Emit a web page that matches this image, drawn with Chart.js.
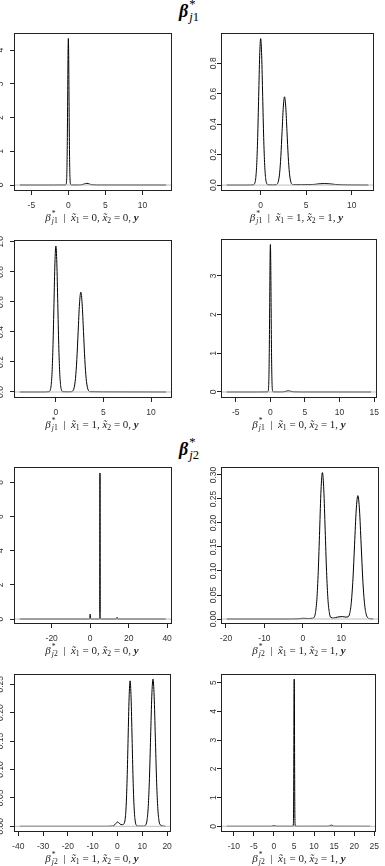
<!DOCTYPE html>
<html>
<head>
<meta charset="utf-8">
<script src="https://cdn.jsdelivr.net/npm/chart.js@4.4.1/dist/chart.umd.min.js"></script>
<style>
  body { margin: 0; background: #fff; width: 385px; height: 866px; position: relative; overflow: hidden; }
  canvas { position: absolute; }
  .xl { position: absolute; font: 11px "Liberation Serif", serif; color: #222; white-space: nowrap;
        transform: translateX(-50%); line-height: 12px; height: 12px; }
  .hd { position: absolute; font: bold 18px "Liberation Serif", serif; color: #000; white-space: nowrap;
        transform: translateX(-50%); line-height: 20px; }
  .ss { display: inline-block; position: relative; line-height: 1; margin-left: 1px; }
  .ss .sp { position: absolute; left: 0; top: -0.3em; font-size: 0.7em; }
  .ss .sb { position: relative; top: 0.32em; font-size: 0.7em; }
  .hd .ss { font-weight: normal; }
  .lo { position: relative; top: 0.3em; font-size: 0.7em; }
</style>
</head>
<body>
<script>
// density of beta*_j1 | x1 = 0, x2 = 0
const b1_00_x = [-6.55, -2, -0.4, -0.27, -0.225, -0.18, -0.135, -0.09, -0.045, 0, 0.045, 0.09, 0.135, 0.18, 0.225, 0.27, 0.4, 1.5, 1.8, 2.15, 2.5, 2.85, 3.2, 4.5, 13.2];
const b1_00_y = [0, 0, 0.002, 0.05, 0.19, 0.59, 1.41, 2.64, 3.84, 4.35, 3.84, 2.64, 1.41, 0.59, 0.19, 0.05, 0.002, 0.001, 0.008, 0.03, 0.05, 0.03, 0.008, 0.001, 0];
// beta*_j1 | x1 = 1, x2 = 1
const b1_11_x = [-3.74, -1.5, -0.77, -0.66, -0.55, -0.44, -0.33, -0.22, -0.11, 0, 0.11, 0.22, 0.33, 0.44, 0.55, 0.66, 0.77, 1.3, 1.7, 1.81, 1.945, 2.08, 2.215, 2.35, 2.485, 2.62, 2.755, 2.89, 3.025, 3.16, 3.295, 3.43, 3.6, 4.5, 5.8, 6.4, 7.0, 7.6, 8.2, 9.5, 11.83];
const b1_11_y = [0, 0, 0.002, 0.011, 0.042, 0.13, 0.312, 0.583, 0.849, 0.962, 0.849, 0.583, 0.312, 0.13, 0.042, 0.011, 0.002, 0.001, 0.002, 0.006, 0.025, 0.078, 0.188, 0.352, 0.512, 0.58, 0.512, 0.352, 0.188, 0.078, 0.025, 0.006, 0.003, 0.003, 0.004, 0.008, 0.01, 0.008, 0.004, 0.001, 0];
// beta*_j1 | x1 = 1, x2 = 0
const b1_10_x = [-3.79, -1.5, -0.7, -0.6, -0.5, -0.4, -0.3, -0.2, -0.1, 0, 0.1, 0.2, 0.3, 0.4, 0.5, 0.6, 0.7, 1.3, 1.65, 1.78, 1.92, 2.06, 2.2, 2.34, 2.48, 2.62, 2.76, 2.9, 3.04, 3.18, 3.32, 3.46, 3.6, 5, 11.58];
const b1_10_y = [0, 0, 0.002, 0.011, 0.043, 0.132, 0.316, 0.59, 0.859, 0.973, 0.859, 0.59, 0.316, 0.132, 0.043, 0.011, 0.002, 0.001, 0.002, 0.007, 0.029, 0.09, 0.216, 0.403, 0.587, 0.665, 0.587, 0.403, 0.216, 0.09, 0.029, 0.007, 0.002, 0.001, 0];
// beta*_j1 | x1 = 0, x2 = 1
const b1_01_x = [-6.31, -2, -0.4, -0.3, -0.25, -0.2, -0.15, -0.1, -0.05, 0, 0.05, 0.1, 0.15, 0.2, 0.25, 0.3, 0.4, 1.5, 1.9, 2.25, 2.6, 2.95, 3.3, 4.5, 14.56];
const b1_01_y = [0, 0, 0.003, 0.042, 0.167, 0.515, 1.237, 2.311, 3.362, 3.81, 3.362, 2.311, 1.237, 0.515, 0.167, 0.042, 0.003, 0.001, 0.005, 0.018, 0.03, 0.018, 0.005, 0.001, 0];
// beta*_j2 | x1 = 0, x2 = 0
const b2_00_x = [-36.6, -5, -0.4, -0.2, -0.1, 0, 0.1, 0.2, 0.4, 4.8, 4.95, 5.0, 5.05, 5.1, 5.15, 5.2, 5.25, 5.4, 13.6, 13.8, 13.9, 14.0, 14.1, 14.2, 14.4, 39.3];
const b2_00_y = [0, 0, 0, 0.04, 0.18, 0.29, 0.18, 0.04, 0, 0, 0.1, 1.16, 5.19, 8.55, 5.19, 1.16, 0.1, 0, 0, 0.01, 0.05, 0.1, 0.05, 0.01, 0, 0];
// beta*_j2 | x1 = 1, x2 = 1
const b2_11_x = [-19.78, -3, -1, 0, 1.5, 2.5, 2.92, 3.28, 3.64, 4.0, 4.36, 4.72, 5.08, 5.44, 5.8, 6.16, 6.52, 6.88, 7.24, 8.0, 9.0, 10.3, 11.2, 11.75, 12.175, 12.6, 13.025, 13.45, 13.875, 14.3, 14.725, 15.15, 15.575, 16.0, 16.425, 16.85, 17.5, 18.28];
const b2_11_y = [0, 0, 0.0005, 0.0015, 0.001, 0.0015, 0.0034, 0.0134, 0.041, 0.099, 0.185, 0.269, 0.305, 0.269, 0.185, 0.099, 0.041, 0.0134, 0.0034, 0.002, 0.004, 0.005, 0.004, 0.0045, 0.0113, 0.0348, 0.0834, 0.156, 0.227, 0.257, 0.227, 0.156, 0.0834, 0.0348, 0.0113, 0.0029, 0.0005, 0];
// beta*_j2 | x1 = 1, x2 = 0
const b2_10_x = [-39.35, -5, -2, -1.4, -0.7, 0, 0.7, 1.4, 2.0, 2.68, 3.08, 3.48, 3.88, 4.28, 4.68, 5.08, 5.48, 5.88, 6.28, 6.68, 7.08, 7.48, 8.5, 10.5, 11.45, 11.925, 12.4, 12.875, 13.35, 13.825, 14.3, 14.775, 15.25, 15.725, 16.2, 16.675, 17.15, 19.3];
const b2_10_y = [0, 0, 0.0005, 0.0015, 0.0046, 0.0076, 0.0055, 0.003, 0.0028, 0.005, 0.0125, 0.0346, 0.0831, 0.155, 0.226, 0.256, 0.226, 0.155, 0.0831, 0.0346, 0.0112, 0.0028, 0.0003, 0.0003, 0.0029, 0.0114, 0.035, 0.084, 0.157, 0.229, 0.259, 0.229, 0.157, 0.084, 0.035, 0.0114, 0.0029, 0];
// beta*_j2 | x1 = 0, x2 = 1
const b2_01_x = [-11.77, -1, -0.5, -0.25, 0, 0.25, 0.5, 4.7, 4.85, 4.9, 4.95, 5.0, 5.05, 5.1, 5.15, 5.2, 5.25, 5.4, 13.5, 13.8, 14.05, 14.3, 14.55, 14.8, 15.1, 23.97];
const b2_01_y = [0, 0, 0.002, 0.012, 0.02, 0.012, 0.002, 0, 0.1, 0.7, 2.31, 4.5, 5.12, 4.5, 2.31, 0.7, 0.1, 0, 0.001, 0.008, 0.028, 0.04, 0.028, 0.008, 0.001, 0];

// axis limits and ticks
const b1_00_xlim = [-7.34, 14.0],  b1_00_ylim = [-0.178, 4.51];
const b1_11_xlim = [-4.36, 12.45], b1_11_ylim = [-0.039, 0.999];
const b1_10_xlim = [-4.4, 12.2],   b1_10_ylim = [-0.040, 1.013];
const b1_01_xlim = [-7.14, 15.4],  b1_01_ylim = [-0.155, 3.95];
const b2_00_xlim = [-39.6, 42.3],  b2_00_ylim = [-0.29, 8.9];
const b2_11_xlim = [-21.3, 19.8],  b2_11_ylim = [-0.0104, 0.3166];
const b2_10_xlim = [-41.7, 21.6],  b2_10_ylim = [-0.010, 0.268];
const b2_01_xlim = [-13.2, 25.4],  b2_01_ylim = [-0.199, 5.30];

const b1_00_xticks = [-5, 0, 5, 10];
const b1_11_xticks = [0, 5, 10];
const b1_10_xticks = [0, 5, 10];
const b1_01_xticks = [-5, 0, 5, 10, 15];
const b2_00_xticks = [-20, 0, 20, 40];
const b2_11_xticks = [-20, -10, 0, 10];
const b2_10_xticks = [-40, -30, -20, -10, 0, 10, 20];
const b2_01_xticks = [-10, -5, 0, 5, 10, 15, 20, 25];

const b1_00_yticks = [0, 1, 2, 3, 4];
const b1_11_yticks = [0, 0.2, 0.4, 0.6, 0.8];
const b1_10_yticks = [0, 0.2, 0.4, 0.6, 0.8, 1.0];
const b1_01_yticks = [0, 1, 2, 3];
const b2_00_yticks = [0, 2, 4, 6, 8];
const b2_11_yticks = [0, 0.05, 0.10, 0.15, 0.20, 0.25, 0.30];
const b2_10_yticks = [0, 0.05, 0.10, 0.15, 0.20, 0.25];
const b2_01_yticks = [0, 1, 2, 3, 4, 5];

const b1_00_ylabels = ["0", "1", "2", "3", "4"];
const b1_11_ylabels = ["0.0", "0.2", "0.4", "0.6", "0.8"];
const b1_10_ylabels = ["0.0", "0.2", "0.4", "0.6", "0.8", "1.0"];
const b1_01_ylabels = ["0", "1", "2", "3"];
const b2_00_ylabels = ["0", "2", "4", "6", "8"];
const b2_11_ylabels = ["0.00", "0.05", "0.10", "0.15", "0.20", "0.25", "0.30"];
const b2_10_ylabels = ["0.00", "0.05", "0.10", "0.15", "0.20", "0.25"];
const b2_01_ylabels = ["0", "1", "2", "3", "4", "5"];

// R style box + rotated y tick labels
const rFrame = {
  id: "rFrame",
  afterDraw(chart, args, opts) {
    const ctx = chart.ctx, a = chart.chartArea, ys = chart.scales.y;
    ctx.save();
    ctx.strokeStyle = "#222";
    ctx.lineWidth = 1;
    ctx.strokeRect(Math.round(a.left) + 0.5, Math.round(a.top) + 0.5,
                   Math.round(a.right - a.left) - 1, Math.round(a.bottom - a.top) - 1);
    ctx.fillStyle = "#333";
    ctx.font = '8.5px "Liberation Sans", sans-serif';
    ctx.textAlign = "center";
    ctx.textBaseline = "middle";
    opts.ticks.forEach((v, i) => {
      ctx.save();
      ctx.translate(a.left - opts.gap, ys.getPixelForValue(v));
      ctx.rotate(-Math.PI / 2);
      ctx.fillText(opts.labels[i], 0, 0);
      ctx.restore();
    });
    ctx.restore();
  }
};

function pts(xs, ys) {
  return xs.map((x, i) => ({ x: x, y: ys[i] }));
}

function betaText(k) {
  return '<i>β</i><span class="ss"><span class="sp">*</span><span class="sb"><i>j</i>' + k + '</span></span>';
}

function mathText(k, a, b) {
  return betaText(k) +
    ' &nbsp;| &nbsp;<i>x̃</i><span class="lo">1</span> = ' + a +
    ', <i>x̃</i><span class="lo">2</span> = ' + b + ', <b><i>y</i></b>';
}

function addText(cls, html, cx, top) {
  const d = document.createElement("div");
  d.className = cls;
  d.innerHTML = html;
  d.style.left = cx + "px";
  d.style.top = top + "px";
  document.body.appendChild(d);
}

// box = [left, top, right, bottom] of the plotting region
function panel(box, xs, ys, xlim, ylim, xticks, yticks, ylabels, gap, k, a, b) {
  const [l, t, r, bt] = box;
  const cv = document.createElement("canvas");
  const w = r - l + 14 + 6, h = bt - t + 4 + 22;
  cv.width = w; cv.height = h;
  cv.style.left = (l - 14) + "px";
  cv.style.top = (t - 4) + "px";
  document.body.appendChild(cv);

  new Chart(cv.getContext("2d"), {
    type: "scatter",
    data: {
      datasets: [
        { data: [{ x: xlim[0], y: 0 }, { x: xlim[1], y: 0 }], showLine: true,
          borderColor: "#bebebe", borderWidth: 1, pointRadius: 0 },
        { data: pts(xs, ys), showLine: true, borderColor: "#000", borderWidth: 1,
          pointRadius: 0, cubicInterpolationMode: "monotone" }
      ]
    },
    options: {
      responsive: false,
      animation: false,
      devicePixelRatio: 1,
      layout: { padding: { top: 4, right: 6, left: 0, bottom: 0 } },
      plugins: {
        legend: { display: false },
        tooltip: { enabled: false },
        rFrame: { ticks: yticks, labels: ylabels, gap: gap }
      },
      scales: {
        x: {
          type: "linear", min: xlim[0], max: xlim[1],
          afterBuildTicks: s => { s.ticks = xticks.map(v => ({ value: v })); },
          afterFit: s => { s.height = 22; },
          grid: { drawOnChartArea: false, tickLength: 4, color: "#222" },
          border: { display: false },
          ticks: { autoSkip: false, maxRotation: 0, padding: 6, color: "#333",
                   font: { family: "Liberation Sans", size: 8.5 },
                   callback: v => String(v) }
        },
        y: {
          type: "linear", min: ylim[0], max: ylim[1],
          afterBuildTicks: s => { s.ticks = yticks.map(v => ({ value: v })); },
          afterFit: s => { s.width = 14; },
          grid: { drawOnChartArea: false, tickLength: 4, color: "#222" },
          border: { display: false },
          ticks: { display: false }
        }
      }
    },
    plugins: [rFrame]
  });

  addText("xl", mathText(k, a, b), (l + r) / 2 - 1, bt + 20);
}

addText("hd", betaText(1), 189, 1);
addText("hd", betaText(2), 189, 439);

panel([14, 33, 172, 191],   b1_00_x, b1_00_y, b1_00_xlim, b1_00_ylim, b1_00_xticks, b1_00_yticks, b1_00_ylabels, 13.5, 1, 0, 0);
panel([221, 33, 374, 191],  b1_11_x, b1_11_y, b1_11_xlim, b1_11_ylim, b1_11_xticks, b1_11_yticks, b1_11_ylabels, 7.6, 1, 1, 1);
panel([14, 240, 172, 398],  b1_10_x, b1_10_y, b1_10_xlim, b1_10_ylim, b1_10_xticks, b1_10_yticks, b1_10_ylabels, 13.5, 1, 1, 0);
panel([221, 239, 379, 398], b1_01_x, b1_01_y, b1_01_xlim, b1_01_ylim, b1_01_xticks, b1_01_yticks, b1_01_ylabels, 7.6, 1, 0, 1);
panel([14, 467, 172, 624],  b2_00_x, b2_00_y, b2_00_xlim, b2_00_ylim, b2_00_xticks, b2_00_yticks, b2_00_ylabels, 13.5, 2, 0, 0);
panel([221, 467, 379, 624], b2_11_x, b2_11_y, b2_11_xlim, b2_11_ylim, b2_11_xticks, b2_11_yticks, b2_11_ylabels, 7.6, 2, 1, 1);
panel([14, 674, 172, 832],  b2_10_x, b2_10_y, b2_10_xlim, b2_10_ylim, b2_10_xticks, b2_10_yticks, b2_10_ylabels, 13.5, 2, 1, 0);
panel([221, 674, 379, 832], b2_01_x, b2_01_y, b2_01_xlim, b2_01_ylim, b2_01_xticks, b2_01_yticks, b2_01_ylabels, 7.6, 2, 0, 1);
</script>
</body>
</html>
